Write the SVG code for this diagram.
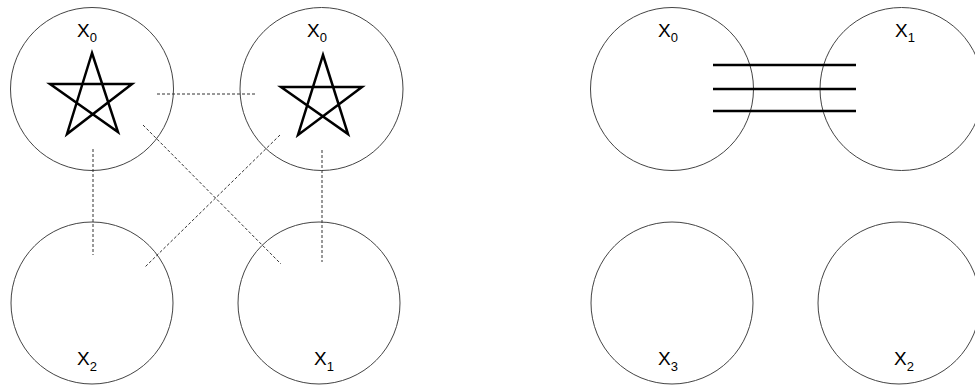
<svg xmlns="http://www.w3.org/2000/svg" width="975" height="385" viewBox="0 0 975 385">
<style>
.node{fill:none;stroke:#444;stroke-width:1}
.lbl{font-family:"Liberation Sans",Arial,sans-serif;font-size:19px;fill:#000}
.sub{font-size:13px}
.star{fill:none;stroke:#000;stroke-width:2.5;stroke-linejoin:miter}
.dash{stroke:#333;stroke-width:1;stroke-dasharray:3 2;fill:none}
.bar{stroke:#000;stroke-width:2.5}
</style>
<rect width="975" height="385" fill="#fff"/>
<g id="left-x0-a">
<circle class="node" cx="92" cy="89" r="81.5"/>
<path class="star" d="M92,53 L118,132 L50,84 L132,84 L67,134 Z"/>
<text class="lbl" x="77" y="37">X<tspan class="sub" dy="5">0</tspan></text>
</g>
<g id="left-x0-b">
<circle class="node" cx="321.5" cy="89" r="81.5"/>
<path class="star" d="M323,55 L348,134 L281,87 L362,87 L298,135 Z"/>
<text class="lbl" x="307" y="37">X<tspan class="sub" dy="5">0</tspan></text>
</g>
<g id="left-x2">
<circle class="node" cx="92" cy="303" r="81"/>
<text class="lbl" x="77" y="365">X<tspan class="sub" dy="6">2</tspan></text>
</g>
<g id="left-x1">
<circle class="node" cx="319" cy="303" r="81"/>
<text class="lbl" x="314" y="365">X<tspan class="sub" dy="6">1</tspan></text>
</g>
<g id="right-x0">
<circle class="node" cx="672" cy="89" r="81.5"/>
<text class="lbl" x="658" y="37">X<tspan class="sub" dy="5">0</tspan></text>
</g>
<g id="right-x1">
<circle class="node" cx="901.5" cy="89" r="81.5"/>
<text class="lbl" x="895" y="37">X<tspan class="sub" dy="5">1</tspan></text>
</g>
<g id="right-x3">
<circle class="node" cx="672" cy="303" r="81"/>
<text class="lbl" x="658" y="365">X<tspan class="sub" dy="6">3</tspan></text>
</g>
<g id="right-x2">
<circle class="node" cx="899" cy="303" r="81"/>
<text class="lbl" x="894" y="365">X<tspan class="sub" dy="6">2</tspan></text>
</g>
<g id="connectors">
<line class="dash" x1="157" y1="94" x2="257" y2="94"/>
<line class="dash" x1="93" y1="149" x2="93" y2="255"/>
<line class="dash" x1="143" y1="125" x2="281" y2="264"/>
<line class="dash" x1="280" y1="135" x2="145" y2="267"/>
<line class="dash" x1="322" y1="150" x2="322" y2="262"/>
<line class="bar" x1="713" y1="65" x2="856" y2="65"/>
<line class="bar" x1="713" y1="89" x2="856" y2="89"/>
<line class="bar" x1="713" y1="111" x2="856" y2="111"/>
</g>
</svg>
